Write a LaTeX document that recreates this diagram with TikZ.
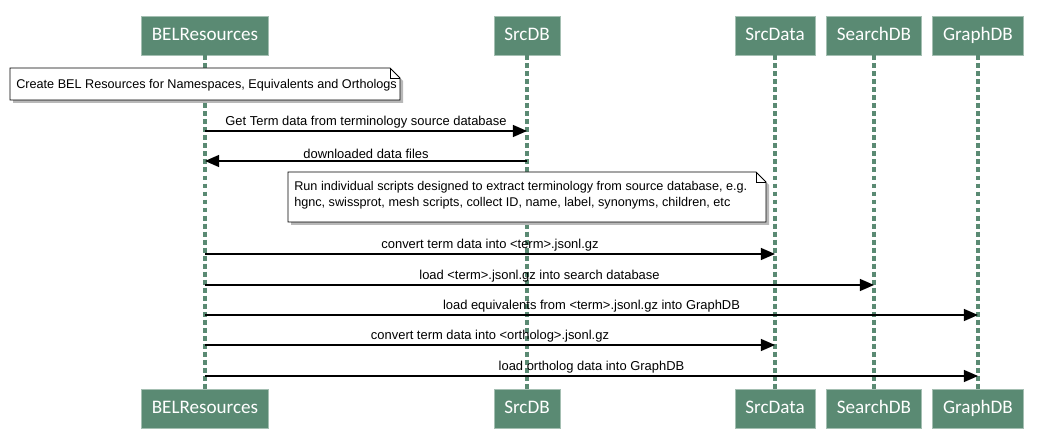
\documentclass[tikz,border=0pt]{standalone}
\usepackage{fontspec}
\setmainfont{Liberation Sans}
\newfontfamily\headfont{Carlito}
\usetikzlibrary{arrows.meta}
\definecolor{lifegreen}{HTML}{5A8A73}
\definecolor{shadowgray}{HTML}{B8B8B8}

\begin{document}
\begin{tikzpicture}[x=0.025cm,y=-0.025cm,
    actor/.style={fill=lifegreen,draw=lifegreen!55!white,text=white,font=\headfont\fontsize{13.6}{15}\selectfont,minimum height=0.975cm,text height=9.5pt,text depth=2.5pt,inner xsep=0.26cm},
    lifeline/.style={draw=lifegreen,line width=2.2pt,dash pattern=on 3.5pt off 2.2pt},
    msg/.style={draw=black,line width=1pt,-{Triangle[length=10pt,width=8.5pt]}},
    msglabel/.style={font=\fontsize{9.2}{11}\selectfont,above,inner sep=1.5pt},
    notetext/.style={font=\fontsize{9}{11.5}\selectfont,align=left,anchor=north west,inner sep=0pt}]

    \useasboundingbox (0,0) rectangle (1040,438);

    % participants, top and bottom
    \node[actor] (belT) at (205,35.5) {BELResources};
    \node[actor] (srcdbT) at (527,35.5) {SrcDB};
    \node[actor] (srcdataT) at (775,35.5) {SrcData};
    \node[actor] (searchT) at (874,35.5) {SearchDB};
    \node[actor] (graphT) at (978,35.5) {GraphDB};
    \node[actor] (belB) at (205,408.5) {BELResources};
    \node[actor] (srcdbB) at (527,408.5) {SrcDB};
    \node[actor] (srcdataB) at (775,408.5) {SrcData};
    \node[actor] (searchB) at (874,408.5) {SearchDB};
    \node[actor] (graphB) at (978,408.5) {GraphDB};

    \foreach \p in {bel,srcdb,srcdata,search,graph}
        \draw[lifeline] (\p T.south) -- (\p B.north);

    % first note
    \fill[shadowgray] (13,71) -- (393,71) -- (403,81) -- (403,103) -- (13,103) -- cycle;
    \fill[white] (10,68) -- (390,68) -- (400,78) -- (400,100) -- (10,100) -- cycle;
    \draw[black,line width=0.6pt] (10,68) -- (390,68) -- (400,78) -- (400,100) -- (10,100) -- cycle;
    \draw[black,line width=0.6pt] (390,68) -- (390,78) -- (400,78);
    \node[notetext] (note1) at (16,79) {Create BEL Resources for Namespaces, Equivalents and Orthologs};

    % messages
    \coordinate (m1) at (0,131);
    \coordinate (m2) at (0,161);
    \draw[msg] (belT |- m1) -- (srcdbT |- m1) node[msglabel,midway] {Get Term data from terminology source database};
    \draw[msg] (srcdbT |- m2) -- (belT |- m2) node[msglabel,midway] {downloaded data files};

    % second note
    \fill[shadowgray] (291,175) -- (759,175) -- (769,185) -- (769,225) -- (291,225) -- cycle;
    \fill[white] (288,172) -- (756,172) -- (766,182) -- (766,222) -- (288,222) -- cycle;
    \draw[black,line width=0.6pt] (288,172) -- (756,172) -- (766,182) -- (766,222) -- (288,222) -- cycle;
    \draw[black,line width=0.6pt] (756,172) -- (756,182) -- (766,182);
    \node[notetext] (note2) at (294,181) {Run individual scripts designed to extract terminology from source database, e.g.\\hgnc, swissprot, mesh scripts, collect ID, name, label, synonyms, children, etc};

    \coordinate (m3) at (0,254);
    \coordinate (m4) at (0,285);
    \coordinate (m5) at (0,315);
    \coordinate (m6) at (0,345);
    \coordinate (m7) at (0,376);
    \draw[msg] (belT |- m3) -- (srcdataT |- m3) node[msglabel,midway] {convert term data into <term>.jsonl.gz};
    \draw[msg] (belT |- m4) -- (searchT |- m4) node[msglabel,midway] {load <term>.jsonl.gz into search database};
    \draw[msg] (belT |- m5) -- (graphT |- m5) node[msglabel,midway] {load equivalents from <term>.jsonl.gz into GraphDB};
    \draw[msg] (belT |- m6) -- (srcdataT |- m6) node[msglabel,midway] {convert term data into <ortholog>.jsonl.gz};
    \draw[msg] (belT |- m7) -- (graphT |- m7) node[msglabel,midway] {load ortholog data into GraphDB};
\end{tikzpicture}
\end{document}
